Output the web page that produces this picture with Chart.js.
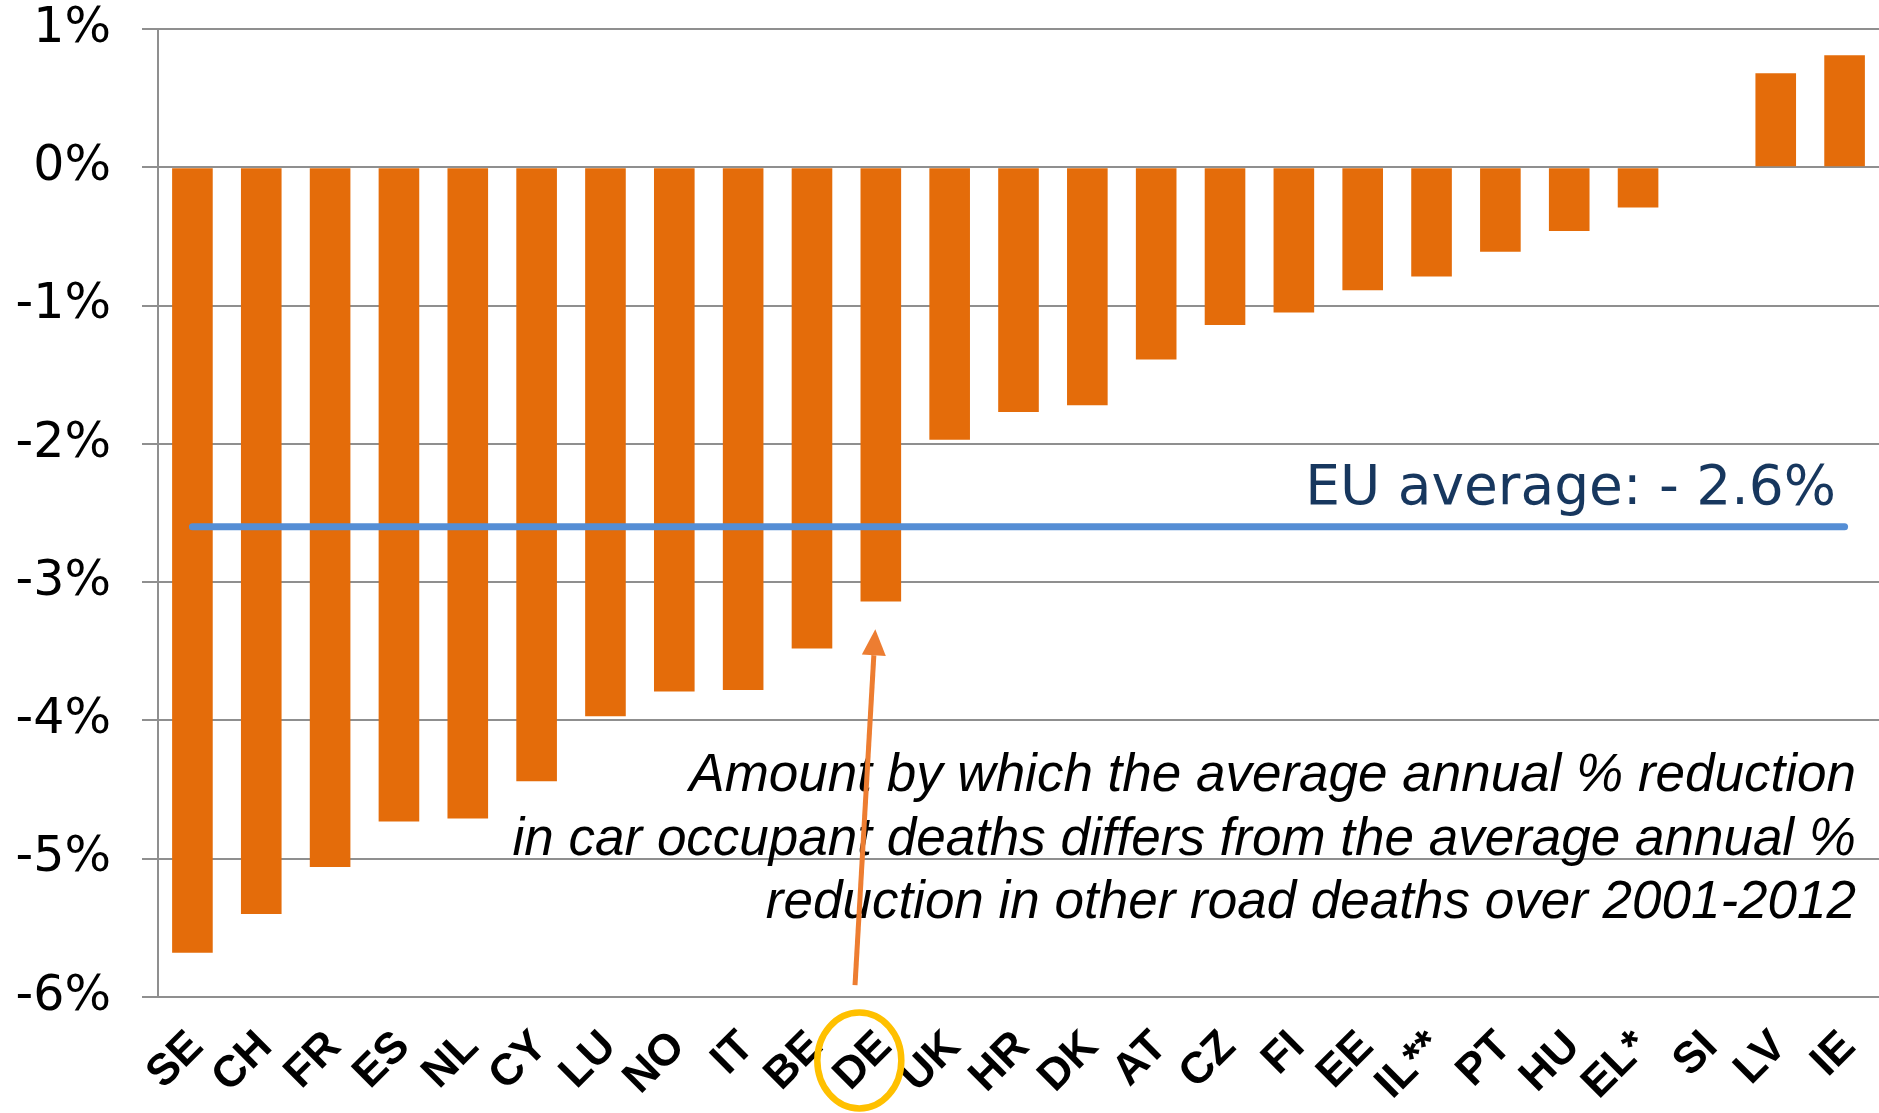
<!DOCTYPE html>
<html>
<head>
<meta charset="utf-8">
<script src="https://cdn.jsdelivr.net/npm/chart.js@4/dist/chart.umd.min.js"></script>
<style>
  html, body { margin: 0; padding: 0; background: #ffffff; }
  #wrap { width: 1879px; height: 1113px; position: relative; }
</style>
</head>
<body>
<div id="wrap"><canvas id="c" width="1879" height="1113"></canvas></div>
<script>
// ---- data ----
const countries = ['SE','CH','FR','ES','NL','CY','LU','NO','IT','BE','DE','UK','HR','DK','AT','CZ','FI','EE','IL**','PT','HU','EL*','SI','LV','IE'];
const differenceValues = [-5.68,-5.40,-5.06,-4.73,-4.71,-4.44,-3.97,-3.79,-3.78,-3.48,-3.14,-1.97,-1.77,-1.72,-1.39,-1.14,-1.05,-0.89,-0.79,-0.61,-0.46,-0.29,0,0.68,0.81];
const euAverage = -2.6;
const yMin = -6;
const yMax = 1;
const yStep = 1;
const euLabel = 'EU average: - 2.6%';
const noteLines = [
  'Amount by which the average annual % reduction',
  'in car occupant deaths differs from the average annual %',
  'reduction in other road deaths over 2001-2012'
];
const highlighted = 'DE';

// ---- annotation plugin ----
const annotations = {
  id: 'annotations',
  afterDatasetsDraw(chart) {
    const { ctx, chartArea: a, scales: { x, y } } = chart;
    ctx.save();
    // EU average label
    const ly = y.getPixelForValue(euAverage);
    ctx.font = '55px "DejaVu Sans"';
    ctx.fillStyle = '#17375E';
    ctx.textAlign = 'right';
    ctx.textBaseline = 'alphabetic';
    ctx.fillText(euLabel, a.right - 43, ly - 23);

    // note text
    ctx.font = 'italic 53px "Liberation Sans"';
    ctx.fillStyle = '#000000';
    const baseY = y.getPixelForValue(-4.512);
    noteLines.forEach((t, i) => ctx.fillText(t, a.right - 23, baseY + i * 63.3));

    // arrow pointing at highlighted bar
    const idx = countries.indexOf(highlighted);
    const cx = x.getPixelForValue(idx);
    const sx = cx - 25.8, sy = y.getPixelForValue(-5.914);
    const tx = cx - 5.5, ty = y.getPixelForValue(-3.341);
    const dx = tx - sx, dy = ty - sy;
    const len = Math.hypot(dx, dy);
    const ux = dx / len, uy = dy / len;
    const headLen = 26, headHalf = 12;
    const bx = tx - ux * headLen, by = ty - uy * headLen;
    ctx.strokeStyle = '#ED7D31';
    ctx.fillStyle = '#ED7D31';
    ctx.lineWidth = 5;
    ctx.lineCap = 'butt';
    ctx.beginPath();
    ctx.moveTo(sx, sy);
    ctx.lineTo(bx, by);
    ctx.stroke();
    ctx.beginPath();
    ctx.moveTo(tx, ty);
    ctx.lineTo(bx - uy * headHalf, by + ux * headHalf);
    ctx.lineTo(bx + uy * headHalf, by - ux * headHalf);
    ctx.closePath();
    ctx.fill();

    // ellipse around highlighted label
    ctx.strokeStyle = '#FFC000';
    ctx.lineWidth = 6.5;
    ctx.beginPath();
    ctx.ellipse(cx - 21.5, a.bottom + 63.5, 42, 48, 0, 0, Math.PI * 2);
    ctx.stroke();
    ctx.restore();
  }
};

new Chart(document.getElementById('c').getContext('2d'), {
  type: 'bar',
  data: {
    labels: countries,
    datasets: [
      {
        type: 'line',
        data: countries.map(() => euAverage),
        borderColor: '#558ED5',
        borderWidth: 7,
        borderCapStyle: 'round',
        pointRadius: 0,
        fill: false,
        order: 0
      },
      {
        type: 'bar',
        data: differenceValues,
        backgroundColor: '#E46C0A',
        borderWidth: 0,
        categoryPercentage: 1,
        barPercentage: 0.59,
        order: 1
      }
    ]
  },
  options: {
    responsive: false,
    animation: false,
    devicePixelRatio: 1,
    layout: { padding: { top: 29, left: 0, right: 0, bottom: 0 } },
    plugins: { legend: { display: false }, tooltip: { enabled: false }, title: { display: false } },
    scales: {
      x: {
        grid: { display: false, drawTicks: false },
        border: { display: false },
        ticks: {
          autoSkip: false,
          maxRotation: 45,
          minRotation: 45,
          padding: 24,
          labelOffset: 4,
          color: '#000000',
          font: { family: 'Liberation Sans', weight: 'bold', size: 44 }
        },
        afterFit: s => { s.height = 116; s.paddingLeft = 0; s.paddingRight = 0; }
      },
      y: {
        min: yMin,
        max: yMax,
        ticks: {
          stepSize: yStep,
          callback: v => v + '%',
          color: '#000000',
          padding: 31,
          font: { family: 'DejaVu Sans', size: 49 }
        },
        grid: { color: '#8F8F8F', lineWidth: 2, tickLength: 16 },
        border: { color: '#8F8F8F', width: 2 },
        afterFit: s => { s.width = 158; s.paddingTop = 0; s.paddingBottom = 0; }
      }
    }
  },
  plugins: [annotations]
});
</script>
</body>
</html>
